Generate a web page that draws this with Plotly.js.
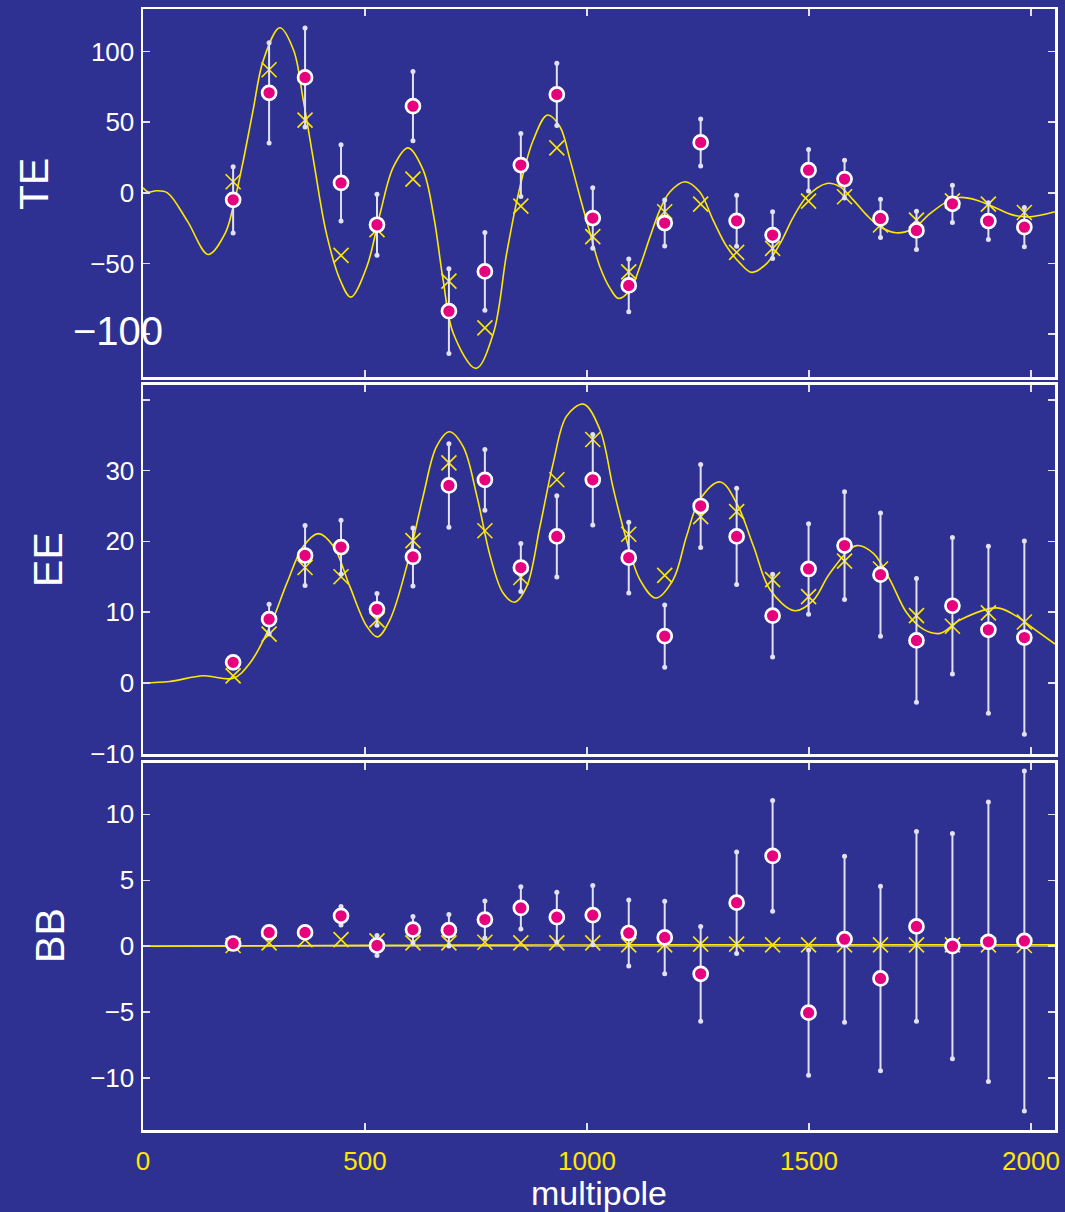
<!DOCTYPE html>
<html>
<head>
<meta charset="utf-8">
<script src="https://cdn.plot.ly/plotly-3.0.1.min.js"></script>
<style>
html,body{margin:0;padding:0;background:#2E3192;}
#chart{width:1065px;height:1212px;}
</style>
</head>
<body>
<div id="chart"></div>
<script>
// ---- band-power multipoles ----
const multipole = [203, 284, 365, 446, 527, 608, 689, 770, 851, 932, 1013, 1094, 1175, 1256, 1337, 1418, 1499, 1580, 1661, 1742, 1823, 1904, 1985];

// ---- TE ----
const teData  = [-5, 70.7, 81.6, 7, -22.6, 61.3, -83.7, -55.6, 19.6, 69.6, -17.9, -65.5, -21.4, 35.6, -19.8, -29.9, 16, 9.7, -18.1, -26.6, -7.8, -20, -24.3];
const teErr   = [23.5, 35.5, 35, 27, 21.6, 24.5, 30, 27.5, 22.3, 22, 21.4, 18.6, 16.3, 16.6, 18, 16.5, 14.7, 13.3, 13.5, 13.5, 13.2, 13, 13.9];
const teModelBin = [7.8, 87, 51.4, -44.3, -26, 9.7, -62.5, -95.5, -9.4, 31.8, -31, -55.9, -13.4, -8, -42.1, -39.3, -5.9, -2.8, -22.8, -19.3, -5.7, -8, -13.9];
const teCurveL = [0, 12, 30, 55, 100, 147, 185, 203, 226, 248, 271, 308, 339, 361, 384, 413, 444, 468, 504, 534, 564, 597, 631, 655, 676, 699, 750, 789, 819, 849, 879, 911, 939, 962, 984, 1007, 1029, 1052, 1071, 1097, 1119, 1142, 1164, 1187, 1221, 1254, 1284, 1315, 1345, 1371, 1405, 1435, 1465, 1495, 1540, 1570, 1600, 1630, 1660, 1697, 1735, 1773, 1810, 1840, 1878, 1915, 1960, 1998, 2054];
const teCurve  = [3.5, 0.5, 1.5, 0, -20, -43.6, -28.7, -9.9, 23, 58.5, 93.8, 116.7, 101, 65.5, 23, -28.7, -61.7, -73.8, -52.3, -14.6, 18.4, 31.8, 16, -17, -61.7, -99.5, -124.2, -99.5, -42.9, 4.2, 37.3, 55, 46.7, 23.1, -2.8, -28.7, -52.3, -67.6, -74.7, -68.8, -52.3, -31.1, -12.2, 0.7, 7.8, 0.5, -19.3, -38.2, -49.9, -56.3, -49.9, -35.8, -17, -2.8, 6.6, 4.2, -5.2, -15.8, -24, -28.3, -25.2, -14.6, -6.4, -3.3, -5.2, -9.9, -15.8, -17, -13.4];

// ---- EE ----
const eeData  = [2.9, 9.0, 18.0, 19.2, 10.4, 17.8, 27.9, 28.7, 16.3, 20.7, 28.7, 17.7, 6.6, 25.0, 20.7, 9.5, 16.1, 19.4, 15.3, 6.0, 10.9, 7.5, 6.4];
const eeErr   = [0.4, 2.1, 4.25, 3.8, 2.25, 4.1, 5.9, 4.3, 3.4, 5.75, 6.4, 5, 4.4, 5.85, 6.8, 5.85, 6.4, 7.6, 8.7, 8.75, 9.65, 11.8, 13.65];
const eeModelBin = [1.0, 6.9, 16.3, 15.0, 8.9, 20.1, 31.1, 21.5, 14.9, 28.7, 34.4, 21.0, 15.2, 23.5, 24.2, 14.6, 12.2, 17.2, 16.1, 9.5, 8.0, 9.9, 8.6];
const eeCurveL = [0, 60, 136, 203, 241, 286, 324, 361, 395, 429, 466, 504, 528, 556, 594, 631, 661, 690, 721, 752, 782, 811, 837, 864, 894, 924, 954, 992, 1029, 1059, 1089, 1119, 1155, 1194, 1224, 1254, 1300, 1337, 1375, 1412, 1468, 1510, 1547, 1607, 1645, 1682, 1720, 1757, 1795, 1840, 1923, 1968, 2005, 2054];
const eeCurve  = [0, 0.2, 1.0, 0.65, 2.8, 8.0, 14.1, 19.3, 21.1, 19.3, 13.6, 8.0, 6.5, 8.9, 16.5, 26.4, 33.4, 35.5, 33.4, 26.4, 17.9, 12.7, 11.4, 13.6, 22.1, 31.1, 37.7, 39.4, 35.8, 27.5, 20.2, 14.6, 12.0, 14.6, 20.7, 25.9, 28.4, 25.4, 19.3, 13.2, 10.2, 11.7, 15.5, 19.4, 18.3, 14.6, 9.9, 7.6, 7.0, 8.9, 10.6, 9.4, 7.7, 5.5];

// ---- BB ----
const bbData  = [0.2, 1.04, 1.04, 2.3, 0.05, 1.26, 1.21, 2.02, 2.9, 2.2, 2.35, 1.0, 0.66, -2.1, 3.3, 6.85, -5.05, 0.53, -2.45, 1.5, 0, 0.33, 0.4];
const bbErr   = [0.25, 0.3, 0.35, 0.7, 0.75, 1.0, 1.2, 1.4, 1.6, 1.9, 2.25, 2.5, 2.75, 3.6, 3.85, 4.2, 4.75, 6.3, 7.0, 7.2, 8.55, 10.6, 12.9];
const bbModelBin = [0.05, 0.25, 0.5, 0.5, 0.4, 0.25, 0.25, 0.3, 0.25, 0.25, 0.25, 0.1, 0.1, 0.15, 0.15, 0.1, 0.1, 0.1, 0.1, 0.1, 0.1, 0.1, 0.05];
const bbCurveL = [0, 200, 400, 600, 800, 1000, 1200, 1400, 1600, 1800, 2054];
const bbCurve  = [0, 0.02, 0.05, 0.07, 0.08, 0.09, 0.1, 0.1, 0.1, 0.1, 0.1];

// ---- tick labels ----
const xTickVals = [0, 500, 1000, 1500, 2000];
const xTickText = ['0', '500', '1000', '1500', '2000'];
const teTickVals = [-100, -50, 0, 50, 100];
const teTickText = ['', '\u221250', '0', '50', '100'];
const eeTickVals = [-10, 0, 10, 20, 30, 40];
const eeTickText = ['\u221210', '0', '10', '20', '30', ''];
const bbTickVals = [-10, -5, 0, 5, 10];
const bbTickText = ['\u221210', '\u22125', '0', '5', '10'];

// ---- styling ----
const BG = '#2E3192';
const YEL = '#FFE800';
const PINK = '#E6007E';
const BAR = 'rgb(225,225,242)';
const FONT = 'Liberation Sans, Arial, Helvetica, sans-serif';

function panelTraces(xa, ya, data, err, modelBin, curveL, curve) {
  const endX = [], endY = [];
  for (let i = 0; i < multipole.length; i++) {
    endX.push(multipole[i], multipole[i]);
    endY.push(data[i] + err[i], data[i] - err[i]);
  }
  return [
    {x: curveL, y: curve, xaxis: xa, yaxis: ya, type: 'scatter', mode: 'lines',
     line: {color: YEL, width: 1.6, shape: 'spline', smoothing: 1}, hoverinfo: 'skip'},
    {x: multipole, y: modelBin, xaxis: xa, yaxis: ya, type: 'scatter', mode: 'markers',
     marker: {symbol: 'x-thin-open', size: 15, color: YEL, line: {color: YEL, width: 1.6}}},
    {x: endX, y: endY, xaxis: xa, yaxis: ya, type: 'scatter', mode: 'markers',
     marker: {symbol: 'circle', size: 5, color: BAR}, hoverinfo: 'skip'},
    {x: multipole, y: data, xaxis: xa, yaxis: ya, type: 'scatter', mode: 'markers',
     error_y: {type: 'data', array: err, visible: true, color: BAR, thickness: 2, width: 0},
     marker: {symbol: 'circle', size: 14, color: PINK, line: {color: 'white', width: 2.7}}}
  ];
}

const traces = [].concat(
  panelTraces('x3', 'y3', teData, teErr, teModelBin, teCurveL, teCurve),
  panelTraces('x2', 'y2', eeData, eeErr, eeModelBin, eeCurveL, eeCurve),
  panelTraces('x', 'y', bbData, bbErr, bbModelBin, bbCurveL, bbCurve)
);

function xAxis(anchor, showLabels) {
  return {
    anchor: anchor, range: [0, 2054], domain: [0, 1],
    tickvals: xTickVals, ticktext: xTickText, showticklabels: showLabels,
    ticks: 'inside', ticklen: 7, tickwidth: 1.5, tickcolor: BAR,
    showline: true, linecolor: 'white', linewidth: 2.5, mirror: 'ticks',
    showgrid: false, zeroline: false,
    ticklabelstandoff: 6,
    tickfont: {family: FONT, size: 26, color: YEL}
  };
}
function yAxis(anchor, domain, range, vals, text, zl) {
  return {
    anchor: anchor, domain: domain, range: range,
    tickvals: vals, ticktext: text,
    ticks: 'inside', ticklen: 7, tickwidth: 1.5, tickcolor: BAR,
    showline: true, linecolor: 'white', linewidth: 2.5, mirror: 'ticks',
    showgrid: false, zeroline: !!zl, zerolinecolor: 'rgb(150,150,160)', zerolinewidth: 1,
    ticklabelstandoff: 1,
    tickfont: {family: FONT, size: 26, color: 'white'}
  };
}

const xa1 = xAxis('y', true);
xa1.title = {text: 'multipole', font: {family: FONT, size: 34, color: 'white'}, standoff: 2};
const xa2 = xAxis('y2', false); xa2.matches = 'x';
const xa3 = xAxis('y3', false); xa3.matches = 'x';

const layout = {
  width: 1065, height: 1212,
  paper_bgcolor: BG, plot_bgcolor: BG,
  showlegend: false,
  margin: {l: 143, r: 10, t: 9, b: 82},
  font: {family: FONT, color: 'white'},
  xaxis: xa1, xaxis2: xa2, xaxis3: xa3,
  yaxis: yAxis('x', [0, 0.3274], [-13.95, 13.9], bbTickVals, bbTickText, true),
  yaxis2: yAxis('x2', [0.3354, 0.6646], [-10.05, 42.1], eeTickVals, eeTickText),
  yaxis3: yAxis('x3', [0.6717, 1], [-130.3, 130], teTickVals, teTickText),
  annotations: [
    {text: 'TE', xref: 'paper', yref: 'paper', x: -0.1195, y: 0.8439, xanchor: 'center', yanchor: 'middle',
     textangle: -90, showarrow: false, font: {family: FONT, size: 41, color: 'white'}},
    {text: 'EE', xref: 'paper', yref: 'paper', x: -0.1042, y: 0.5094, xanchor: 'center', yanchor: 'middle',
     textangle: -90, showarrow: false, font: {family: FONT, size: 41, color: 'white'}},
    {text: 'BB', xref: 'paper', yref: 'paper', x: -0.102, y: 0.174, xanchor: 'center', yanchor: 'middle',
     textangle: -90, showarrow: false, font: {family: FONT, size: 41, color: 'white'}},
    {text: '\u2212100', xref: 'paper', yref: 'paper', x: -0.0269, y: 0.7128, xanchor: 'center', yanchor: 'middle',
     showarrow: false, font: {family: FONT, size: 40, color: 'white'}}
  ]
};

Plotly.newPlot('chart', traces, layout, {displayModeBar: false, staticPlot: true});
</script>
</body>
</html>
